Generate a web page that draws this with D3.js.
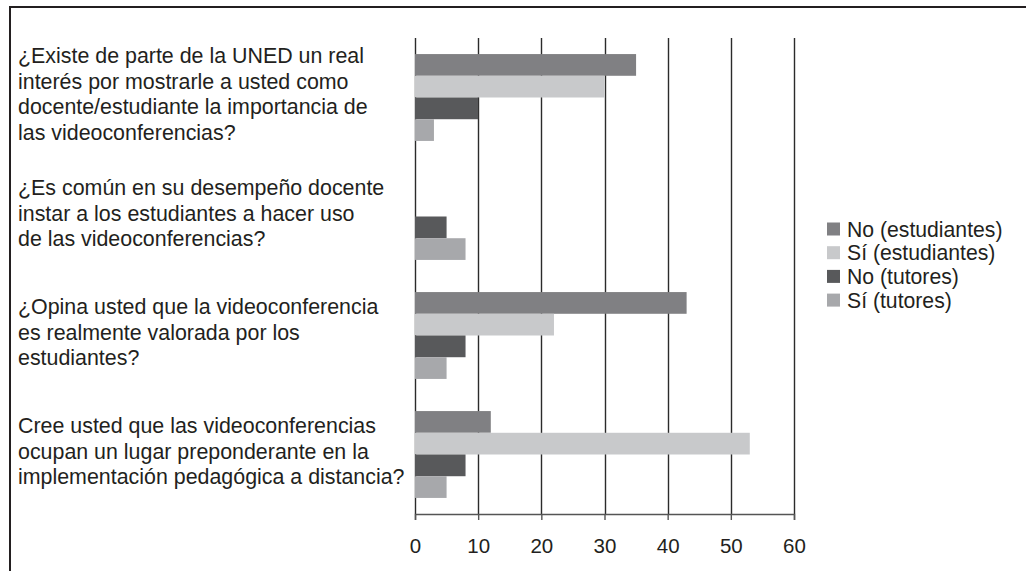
<!DOCTYPE html>
<html>
<head>
<meta charset="utf-8">
<script src="https://cdn.jsdelivr.net/npm/d3@7"></script>
<style>
  body { margin: 0; background: #fff; }
  text { font-family: "Liberation Sans", Arial, sans-serif; fill: #231f20; }
</style>
</head>
<body>
<div id="chart"></div>
<script>
const questions = [
  ['¿Existe de parte de la UNED un real', 'interés por mostrarle a usted como', 'docente/estudiante la importancia de', 'las videoconferencias?'],
  ['¿Es común en su desempeño docente', 'instar a los estudiantes a hacer uso', 'de las videoconferencias?'],
  ['¿Opina usted que la videoconferencia', 'es realmente valorada por los', 'estudiantes?'],
  ['Cree usted que las videoconferencias', 'ocupan un lugar preponderante en la', 'implementación pedagógica a distancia?']
];
const seriesNames = ['No (estudiantes)', 'Sí (estudiantes)', 'No (tutores)', 'Sí (tutores)'];
const seriesColors = ['#808083', '#c8c9cb', '#58595b', '#a7a8ab'];
const noEstudiantes = [35, 0, 43, 12];
const siEstudiantes = [30, 0, 22, 53];
const noTutores = [10, 5, 8, 8];
const siTutores = [3, 8, 5, 5];
const xTicks = [0, 10, 20, 30, 40, 50, 60];

const series = [noEstudiantes, siEstudiantes, noTutores, siTutores];

const width = 1026, height = 571;
const svg = d3.select('#chart').append('svg')
  .attr('width', width).attr('height', height);

// frame (top + left only)
svg.append('line').attr('x1', 10).attr('x2', width).attr('y1', 7).attr('y2', 7)
  .attr('stroke', '#231f20').attr('stroke-width', 2);
svg.append('line').attr('x1', 10).attr('x2', 10).attr('y1', 6).attr('y2', height)
  .attr('stroke', '#231f20').attr('stroke-width', 2);

const x = d3.scaleLinear().domain([0, 60]).range([415, 794]);
const y = d3.scaleBand().domain(d3.range(questions.length)).range([38, 514]).paddingInner(0.27).paddingOuter(0.135);
const ySub = d3.scaleBand().domain(d3.range(series.length)).range([0, y.bandwidth()]);

// gridlines
svg.append('g').selectAll('line').data(xTicks).join('line')
  .attr('x1', d => Math.round(x(d)) + 0.5).attr('x2', d => Math.round(x(d)) + 0.5)
  .attr('y1', 38).attr('y2', 514)
  .attr('stroke', '#2b2b2b').attr('stroke-width', 1.4);

// bars
const groups = svg.append('g').selectAll('g').data(questions).join('g')
  .attr('transform', (d, i) => `translate(0,${y(i)})`);
groups.selectAll('rect')
  .data((d, i) => series.map((s, k) => ({ k, v: s[i] })))
  .join('rect')
  .attr('x', x(0))
  .attr('y', d => ySub(d.k))
  .attr('width', d => x(d.v) - x(0))
  .attr('height', ySub.bandwidth())
  .attr('fill', d => seriesColors[d.k]);

// x axis
const axis = svg.append('g').attr('transform', 'translate(0,514)')
  .call(d3.axisBottom(x).tickValues(xTicks).tickSize(6).tickPadding(18));
axis.select('.domain').attr('stroke', '#555').attr('stroke-width', 1.5);
axis.selectAll('.tick line').attr('stroke', '#555').attr('stroke-width', 1.4);
axis.selectAll('.tick text').attr('font-size', 20.5).attr('font-family', '"Liberation Sans", Arial, sans-serif').attr('fill', '#231f20');

// category labels
const lh = 25.5;
svg.append('g').selectAll('text').data(questions).join('text')
  .attr('x', 18)
  .attr('font-size', 21.4)
  .each(function(lines, i) {
    const cy = y(i) + y.bandwidth() / 2 - 3;
    d3.select(this).selectAll('tspan').data(lines).join('tspan')
      .attr('x', 18)
      .attr('y', (l, j) => cy + (j - (lines.length - 1) / 2) * lh + 7)
      .text(l => l);
  });

// legend
const legend = svg.append('g').selectAll('g').data(seriesNames).join('g')
  .attr('transform', (d, i) => `translate(827,${229 + i * 23.7})`);
legend.append('rect').attr('x', 0).attr('y', -6.5).attr('width', 13).attr('height', 13)
  .attr('fill', (d, i) => seriesColors[i]);
legend.append('text').attr('x', 20).attr('y', 7.5).attr('font-size', 21.2).text(d => d);
</script>
</body>
</html>
